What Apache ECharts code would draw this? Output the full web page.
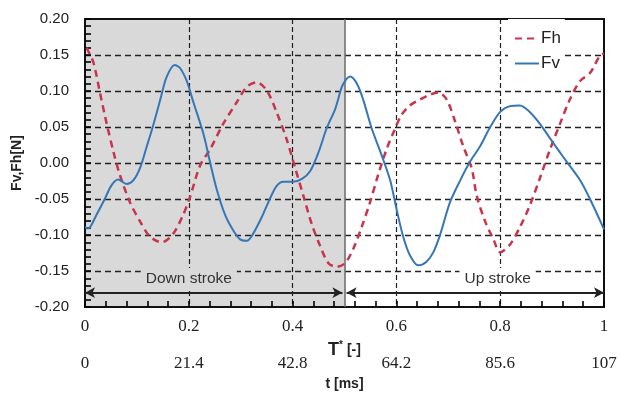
<!DOCTYPE html>
<html>
<head>
<meta charset="utf-8">
<script src="https://cdn.jsdelivr.net/npm/echarts@6/dist/echarts.min.js"></script>
<style>html,body{margin:0;padding:0;background:#fff;}#c{width:621px;height:396px;}</style>
</head>
<body>
<div id="c"></div>
<script>
// ---- data ----
const fvT = [0, 0.006, 0.022, 0.038, 0.051, 0.064, 0.080, 0.093, 0.106, 0.119, 0.132, 0.145, 0.157, 0.173, 0.183, 0.196, 0.209, 0.228, 0.241, 0.254, 0.270, 0.286, 0.299, 0.312, 0.324, 0.340, 0.356, 0.369, 0.382, 0.401, 0.418, 0.434, 0.450, 0.466, 0.482, 0.495, 0.504, 0.511, 0.524, 0.536, 0.552, 0.572, 0.588, 0.600, 0.613, 0.626, 0.642, 0.658, 0.671, 0.684, 0.703, 0.723, 0.742, 0.761, 0.780, 0.800, 0.819, 0.838, 0.857, 0.877, 0.902, 0.928, 0.954, 0.973, 1.0];
const fvV = [-0.089, -0.091, -0.072, -0.050, -0.031, -0.023, -0.029, -0.024, -0.007, 0.023, 0.054, 0.088, 0.119, 0.136, 0.132, 0.114, 0.084, 0.041, 0.001, -0.037, -0.072, -0.094, -0.106, -0.108, -0.098, -0.076, -0.050, -0.032, -0.026, -0.026, -0.022, -0.011, 0.015, 0.049, 0.075, 0.106, 0.117, 0.120, 0.110, 0.088, 0.049, 0.010, -0.024, -0.063, -0.102, -0.128, -0.142, -0.137, -0.124, -0.100, -0.055, -0.024, 0.002, 0.023, 0.049, 0.071, 0.079, 0.080, 0.071, 0.054, 0.028, 0.002, -0.024, -0.050, -0.092];
const fhT = [0.003, 0.016, 0.029, 0.042, 0.055, 0.067, 0.087, 0.106, 0.125, 0.148, 0.170, 0.189, 0.202, 0.222, 0.241, 0.266, 0.292, 0.312, 0.331, 0.350, 0.369, 0.389, 0.405, 0.421, 0.437, 0.453, 0.469, 0.485, 0.501, 0.517, 0.533, 0.549, 0.565, 0.581, 0.597, 0.610, 0.626, 0.645, 0.665, 0.681, 0.697, 0.713, 0.729, 0.745, 0.755, 0.771, 0.787, 0.800, 0.819, 0.838, 0.857, 0.877, 0.896, 0.915, 0.934, 0.954, 0.973, 0.992, 1.0];
const fhV = [0.160, 0.140, 0.097, 0.054, 0.015, -0.016, -0.055, -0.081, -0.102, -0.110, -0.098, -0.072, -0.048, -0.003, 0.019, 0.054, 0.084, 0.106, 0.112, 0.101, 0.071, 0.032, -0.007, -0.046, -0.085, -0.115, -0.139, -0.144, -0.139, -0.119, -0.089, -0.055, -0.016, 0.019, 0.047, 0.067, 0.080, 0.088, 0.095, 0.098, 0.088, 0.058, 0.023, -0.007, -0.046, -0.081, -0.106, -0.124, -0.113, -0.089, -0.059, -0.020, 0.019, 0.054, 0.088, 0.114, 0.125, 0.149, 0.152];
const tStarLabels = ['0', '0.2', '0.4', '0.6', '0.8', '1'];
const tMsLabels = ['0', '21.4', '42.8', '64.2', '85.6', '107'];
const yTickLabels = ['-0.20', '-0.15', '-0.10', '-0.05', '0.00', '0.05', '0.10', '0.15', '0.20'];
const strokeNames = ['Down stroke', 'Up stroke'];
const strokeStart = [0, 0.5];
const strokeEnd = [0.5, 1];
const strokeLabelT = [0.2, 0.795];
const strokeArrowLevel = -0.18;
const strokeLabelLevel = -0.161;

const zip = (a, b) => a.map((x, i) => [x, b[i]]);
const xIdx = v => Math.round(v / 0.2);
const yIdx = v => Math.round((v + 0.2) / 0.05);

const RED = '#c9344c', BLUE = '#3576b8', SHADE = '#d9d9d9';
const sans = 'Liberation Sans, Arial, sans-serif';
const frameLine = {show: true, onZero: false, lineStyle: {color: '#111', width: 2}};
const frameOnly = {axisLine: frameLine, axisTick: {show: false}, axisLabel: {show: false}, splitLine: {show: false}};
const tickStyle = {color: '#000', width: 1.6};

const chart = echarts.init(document.getElementById('c'));
chart.setOption({
  animation: false,
  backgroundColor: '#fff',
  grid: {left: 85, right: 17, top: 19, bottom: 69},
  legend: {
    data: ['Fh', 'Fv'], orient: 'vertical', left: 508, top: 19,
    padding: [11, 4, 6, 6], itemGap: 8, itemWidth: 24, itemHeight: 12,
    backgroundColor: '#fff', z: 6,
    itemStyle: {color: 'rgba(0,0,0,0)', borderWidth: 0, opacity: 0},
    textStyle: {fontSize: 17, fontFamily: sans, color: '#222', padding: [0, 0, 0, -3]}
  },
  xAxis: [{
    type: 'value', min: 0, max: 1, interval: 0.2, position: 'bottom',
    axisLine: frameLine,
    axisTick: {show: true, inside: true, length: 6, lineStyle: tickStyle},
    minorTick: {show: true, splitNumber: 5, length: 6, lineStyle: tickStyle},
    splitLine: {show: true, showMinLine: false, showMaxLine: false, lineStyle: {type: [5, 3], color: '#222', width: 1.2}},
    axisLabel: {fontFamily: 'Liberation Serif, serif', fontSize: 17, color: '#222', margin: 11, formatter: v => tStarLabels[xIdx(v)]},
    name: '{b|T}{s|*}{n| [-]}', nameLocation: 'middle', nameGap: 33,
    nameTextStyle: {rich: {
      b: {fontFamily: sans, fontWeight: 'bold', fontSize: 18, color: '#222'},
      s: {fontFamily: sans, fontWeight: 'bold', fontSize: 10, color: '#222', verticalAlign: 'top', padding: [0, 0, 10, 0]},
      n: {fontFamily: sans, fontWeight: 'bold', fontSize: 14, color: '#222'}
    }}
  }, {
    type: 'value', min: 0, max: 1, interval: 0.2, position: 'bottom', offset: 37,
    axisLine: {show: false, onZero: false}, axisTick: {show: false}, splitLine: {show: false},
    axisLabel: {fontFamily: 'Liberation Serif, serif', fontSize: 17, color: '#222', margin: 11, formatter: v => tMsLabels[xIdx(v)]},
    name: 't [ms]', nameLocation: 'middle', nameGap: 31,
    nameTextStyle: {fontFamily: sans, fontWeight: 'bold', fontSize: 14, color: '#222'}
  }, Object.assign({type: 'value', min: 0, max: 1, interval: 0.2, position: 'top'}, frameOnly)],
  yAxis: [{
    type: 'value', min: -0.2, max: 0.2, interval: 0.05,
    axisLine: frameLine,
    axisTick: {show: true, inside: true, length: 6, lineStyle: tickStyle},
    minorTick: {show: true, splitNumber: 5, length: 6, lineStyle: tickStyle},
    splitLine: {show: true, showMinLine: false, showMaxLine: false, lineStyle: {type: [6, 4], color: '#222', width: 1.4}},
    axisLabel: {fontFamily: sans, fontSize: 15, color: '#222', margin: 16, formatter: v => yTickLabels[yIdx(v)]},
    name: 'Fv,Fh[N]', nameLocation: 'middle', nameGap: 58,
    nameTextStyle: {fontFamily: sans, fontWeight: 'bold', fontSize: 14, color: '#222'}
  }, Object.assign({type: 'value', min: -0.2, max: 0.2, interval: 0.05, position: 'right'}, frameOnly)],
  series: [{
    name: 'shade', type: 'line', data: [], silent: true, z: -1,
    markArea: {silent: true, z: -1, itemStyle: {color: SHADE}, data: [[{xAxis: strokeStart[0]}, {xAxis: strokeEnd[0]}]]}
  }, {
    name: 'divider', type: 'line', data: [], silent: true,
    markLine: {silent: true, symbol: ['none', 'none'], z: 3, label: {show: false},
      lineStyle: {color: '#666', width: 1.5, type: 'solid'}, data: [{xAxis: strokeEnd[0]}]}
  }, {
    name: 'frame', type: 'line', xAxisIndex: 2, yAxisIndex: 1, data: [], silent: true
  }, {
    name: 'strokes', type: 'line', data: [], silent: true,
    markLine: {silent: true, symbol: ['arrow', 'arrow'], symbolSize: [8, 10], z: 5, label: {show: false},
      lineStyle: {color: '#222', width: 2, type: 'solid'},
      data: strokeNames.map((n, i) => [{coord: [strokeStart[i] + (i ? 0.004 : 0), strokeArrowLevel]}, {coord: [strokeEnd[i] - (i ? 0 : 0.004), strokeArrowLevel]}])},
    markPoint: {silent: true, symbol: 'rect', symbolSize: 1, itemStyle: {color: 'rgba(0,0,0,0)'}, z: 5,
      data: strokeNames.map((n, i) => ({coord: [strokeLabelT[i], strokeLabelLevel], value: n,
        label: {show: true, position: 'inside', formatter: n, fontFamily: sans, fontSize: 15.5, color: '#333',
          backgroundColor: i ? '#fff' : SHADE, padding: [3, 5]}}))}
  }, {
    name: 'Fh', type: 'line', data: zip(fhT, fhV), showSymbol: false, symbol: 'none', smooth: 0.3, z: 5,
    lineStyle: {color: RED, width: 2.5, type: [7, 5]}, itemStyle: {color: RED}
  }, {
    name: 'Fv', type: 'line', data: zip(fvT, fvV), showSymbol: false, symbol: 'none', smooth: 0.3, z: 5,
    lineStyle: {color: BLUE, width: 2}, itemStyle: {color: BLUE}
  }]
});
</script>
</body>
</html>
